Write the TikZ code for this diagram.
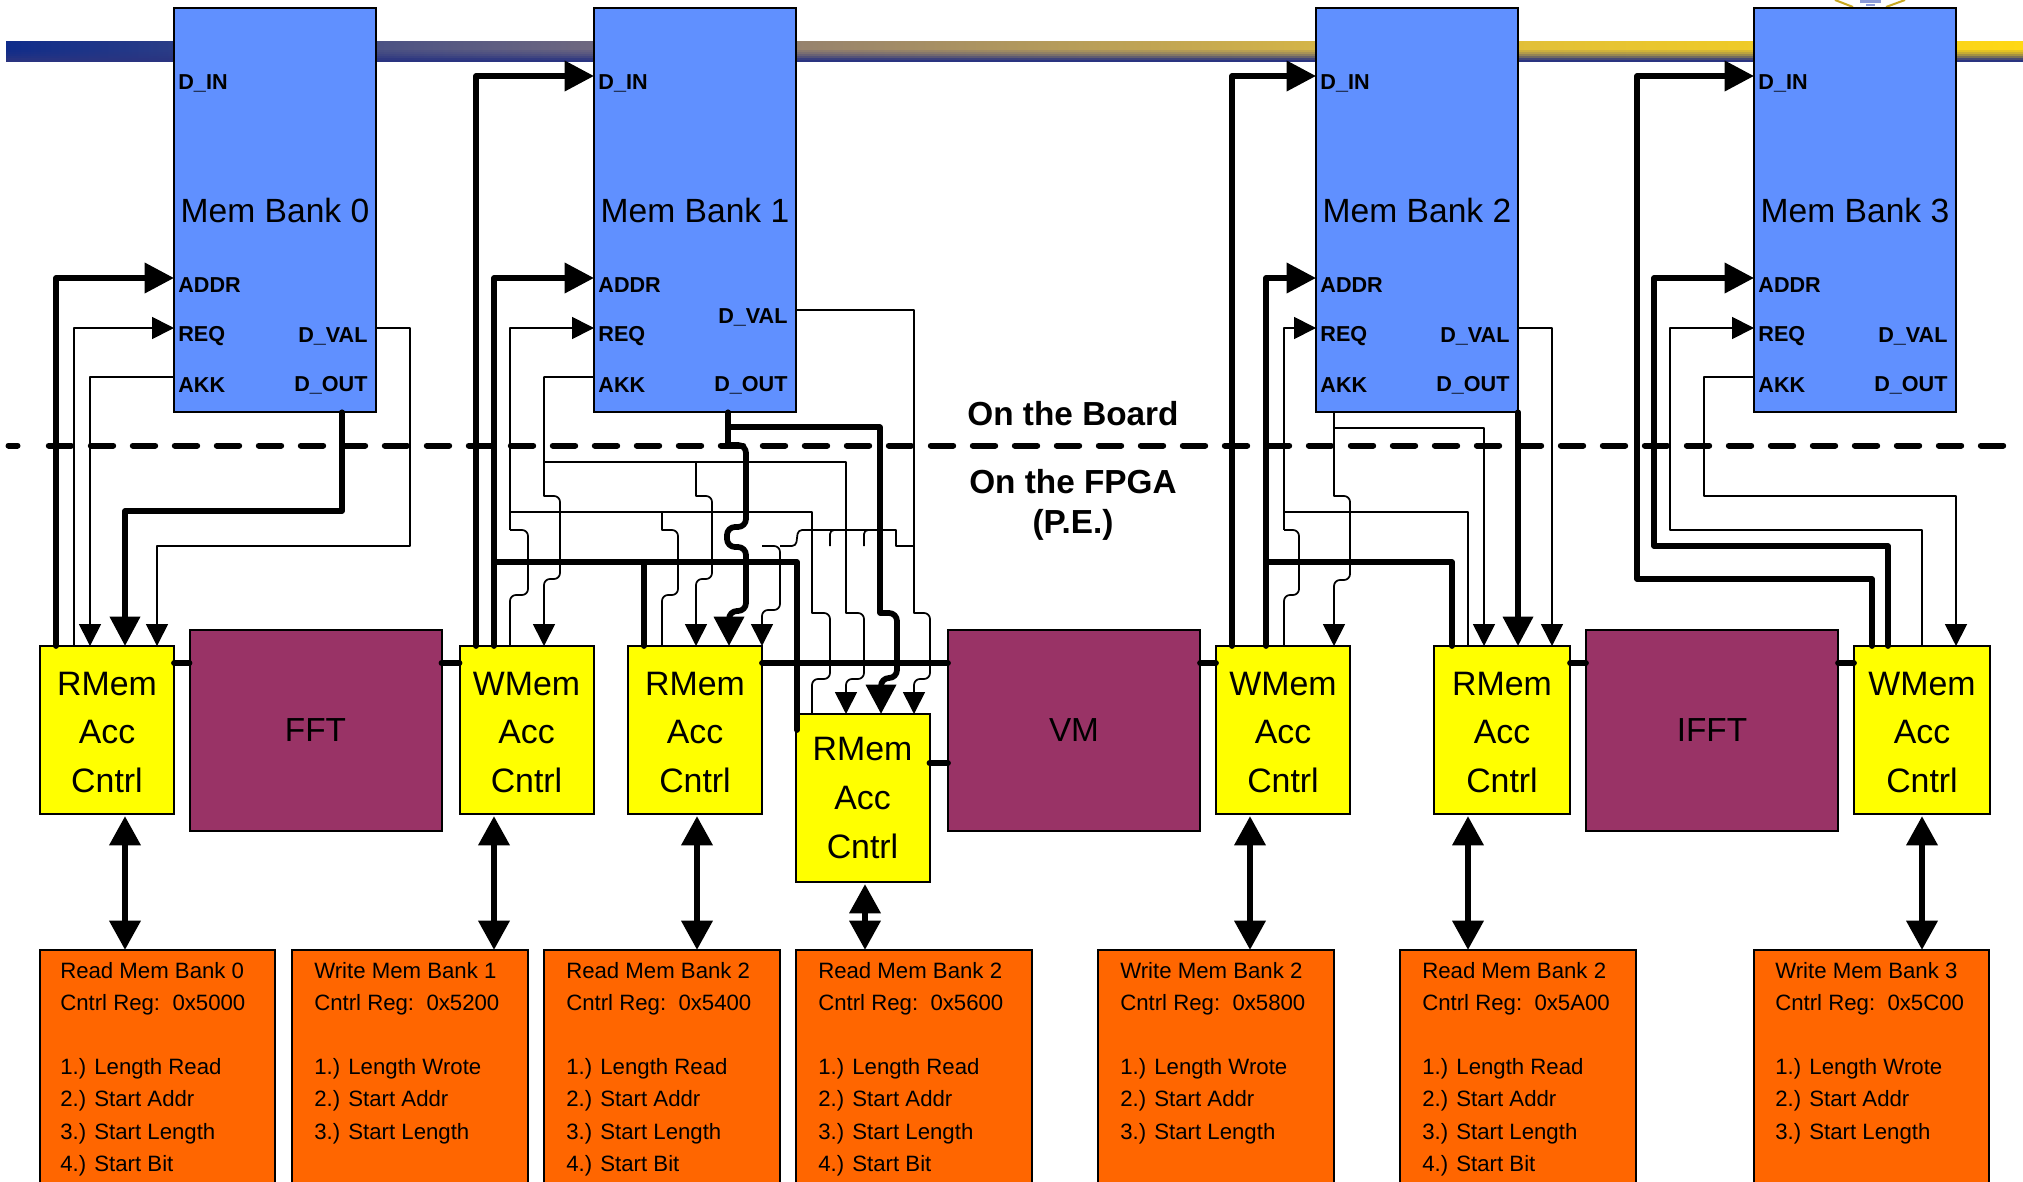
\documentclass[tikz,border=0pt]{standalone}
\usepackage{fontspec}
\setmainfont{Liberation Sans}
\usetikzlibrary{arrows.meta}
\definecolor{memblue}{HTML}{6090FF}
\definecolor{accyellow}{HTML}{FFFF00}
\definecolor{fftpurple}{HTML}{993366}
\definecolor{regorange}{HTML}{FF6600}
\definecolor{barnavy}{HTML}{2A3480}
\definecolor{sealgold}{HTML}{C8A820}
\definecolor{seallilac}{HTML}{8C9BD8}
\definecolor{barA}{HTML}{0F2C8A}
\definecolor{barB}{HTML}{6F6880}
\definecolor{barC}{HTML}{96826E}
\definecolor{barD}{HTML}{D6B646}
\definecolor{barE}{HTML}{FFD814}
\pgfdeclarehorizontalshading{goldbar}{100bp}{
 color(0bp)=(barA); color(25bp)=(barA); color(39.6bp)=(barB);
 color(44.6bp)=(barC); color(57.8bp)=(barD); color(75bp)=(barE); color(100bp)=(barE)}
\tikzset{
 boxbase/.style={draw=black,line width=1.5pt,outer sep=0pt,inner sep=0pt,align=center},
 membox/.style={boxbase,fill=memblue,minimum width=151.5pt,minimum height=303.4pt,font=\fontsize{25.2}{30}\selectfont},
 accbox/.style={boxbase,fill=accyellow,minimum width=100.5pt,minimum height=126pt,font=\fontsize{25.4}{36.4}\selectfont},
 fftbox/.style={boxbase,fill=fftpurple,minimum width=189pt,minimum height=150.75pt,font=\fontsize{25}{30}\selectfont},
 regbox/.style={boxbase,fill=regorange,minimum width=176.5pt,minimum height=225pt},
 regtext/.style={inner sep=0pt,anchor=north west,align=left,font=\fontsize{16.65}{24.1}\selectfont},
 portl/.style={inner sep=0pt,anchor=west,xshift=3.1pt,font=\bfseries\fontsize{16.2}{19}\selectfont},
 portr/.style={inner sep=0pt,anchor=east,xshift=-6.2pt,font=\bfseries\fontsize{16.2}{19}\selectfont},
 headtext/.style={inner sep=0pt,font=\bfseries\fontsize{25}{30}\selectfont},
 thinw/.style={draw=black,line width=1.3pt,line join=round},
 thickw/.style={draw=black,line width=4.3pt,line join=round,line cap=round},
 linkw/.style={draw=black,line width=4.3pt,line cap=round},
 smalltip/.style={-{Triangle[length=16.5pt,width=16.5pt]}},
 bigtip/.style={-{Triangle[length=22pt,width=22pt]}},
 twotip/.style={draw=black,line width=5pt,{Triangle[length=22pt,width=22.5pt]}-{Triangle[length=22pt,width=22.5pt]}},
 softbend/.style={rounded corners=4.5pt},
 boundary/.style={black,line width=4.5pt,line cap=round}
}
\newcommand{\portset}[2]{%
 \node[portl] (#1din) at (#1.west |- 0,83) {D\_IN};
 \node[portl] (#1addr) at (#1.west |- 0,285) {ADDR};
 \node[portl] (#1req) at (#1.west |- 0,336) {REQ};
 \node[portl] (#1akk) at (#1.west |- 0,385) {AKK};
 \node[portr] (#1dval) at (#1.east |- 0,#2) {D\_VAL};
 \node[portr] (#1dout) at (#1.east |- 0,385) {D\_OUT};
}
\newcommand{\ctltext}[1]{\rule{0pt}{21pt}#1\\Acc\\Cntrl}
\begin{document}
\begin{tikzpicture}[x=0.75pt,y=-0.75pt]
\clip (0,0) rectangle (2023,1181);
\fill[white] (0,0) rectangle (2023,1181);
% title bar
\shade[shading=goldbar] (6,42) rectangle (2023,62);
\foreach \yy/\op in {50/.12,52/.25,54/.42,56/.62,58/.85,60/1}
 \fill[barnavy,opacity=\op] (6,\yy) rectangle (2023,\yy+2);
% seal fragment
\draw[sealgold,line width=1.5pt] (1835,0) -- (1853,7);
\draw[sealgold,line width=1.5pt] (1905,0) -- (1886,7);
\draw[seallilac,line width=3pt] (1860,1) -- (1881,1);
\draw[seallilac,line width=2pt] (1866,5) -- (1875,5);
% memory banks
\node[membox] (b0) at (275,210) {\raisebox{-0.75pt}{Mem Bank 0}};
\node[membox] (b1) at (695,210) {\raisebox{-0.75pt}{Mem Bank 1}};
\node[membox] (b2) at (1417,210) {\raisebox{-0.75pt}{Mem Bank 2}};
\node[membox] (b3) at (1855,210) {\raisebox{-0.75pt}{Mem Bank 3}};
\portset{b0}{336}
\portset{b1}{317}
\portset{b2}{336}
\portset{b3}{336}
% controllers
\node[accbox] (r0) at (107,730) {\ctltext{RMem}};
\node[accbox] (w1) at (526.5,730) {\ctltext{WMem}};
\node[accbox] (r2) at (695,730) {\ctltext{RMem}};
\node[accbox] (r3) at (862.5,798) {RMem\\Acc\\Cntrl};
\node[accbox] (w2) at (1283,730) {\ctltext{WMem}};
\node[accbox,minimum width=102pt] (r4) at (1502,730) {\ctltext{RMem}};
\node[accbox,minimum width=102pt] (w3) at (1922,730) {\ctltext{WMem}};
% functional blocks
\node[fftbox] (fft) at (315.5,730.5) {FFT};
\node[fftbox] (vm) at (1074,730.5) {VM};
\node[fftbox] (ifft) at (1712,730.5) {IFFT};
% register boxes
\node[regbox] (g0) at (157.5,1100) {};
\node[regbox] (g1) at (410,1100) {};
\node[regbox] (g2) at (662,1100) {};
\node[regbox] (g3) at (914,1100) {};
\node[regbox] (g4) at (1216,1100) {};
\node[regbox] (g5) at (1518,1100) {};
\node[regbox] (g6) at (1871.5,1100) {};
\node[regtext] (t0) at (60,962) {Read Mem Bank 0\\Cntrl Reg:\ \ 0x5000\\\mbox{}\\1.) Length Read\\2.) Start Addr\\3.) Start Length\\4.) Start Bit};
\node[regtext] (t1) at (314,962) {Write Mem Bank 1\\Cntrl Reg:\ \ 0x5200\\\mbox{}\\1.) Length Wrote\\2.) Start Addr\\3.) Start Length};
\node[regtext] (t2) at (566,962) {Read Mem Bank 2\\Cntrl Reg:\ \ 0x5400\\\mbox{}\\1.) Length Read\\2.) Start Addr\\3.) Start Length\\4.) Start Bit};
\node[regtext] (t3) at (818,962) {Read Mem Bank 2\\Cntrl Reg:\ \ 0x5600\\\mbox{}\\1.) Length Read\\2.) Start Addr\\3.) Start Length\\4.) Start Bit};
\node[regtext] (t4) at (1120,962) {Write Mem Bank 2\\Cntrl Reg:\ \ 0x5800\\\mbox{}\\1.) Length Wrote\\2.) Start Addr\\3.) Start Length};
\node[regtext] (t5) at (1422,962) {Read Mem Bank 2\\Cntrl Reg:\ \ 0x5A00\\\mbox{}\\1.) Length Read\\2.) Start Addr\\3.) Start Length\\4.) Start Bit};
\node[regtext] (t6) at (1775,962) {Write Mem Bank 3\\Cntrl Reg:\ \ 0x5C00\\\mbox{}\\1.) Length Wrote\\2.) Start Addr\\3.) Start Length};
% links between controllers and blocks
\draw[linkw] (r0.east |- 0,663) -- (fft.west |- 0,663);
\draw[linkw] (fft.east |- 0,663) -- (w1.west |- 0,663);
\draw[linkw] (r2.east |- 0,663) -- (vm.west |- 0,663);
\draw[linkw] (r3.east |- 0,763) -- (vm.west |- 0,763);
\draw[linkw] (vm.east |- 0,663) -- (w2.west |- 0,663);
\draw[linkw] (r4.east |- 0,663) -- (ifft.west |- 0,663);
\draw[linkw] (ifft.east |- 0,663) -- (w3.west |- 0,663);
% register links
\draw[twotip] (125,0 |- r0.south) ++(0,2) -- (125,0 |- g0.north);
\draw[twotip] (494,0 |- w1.south) ++(0,2) -- (494,0 |- g1.north);
\draw[twotip] (697,0 |- r2.south) ++(0,2) -- (697,0 |- g2.north);
\draw[twotip] (865,0 |- r3.south) ++(0,2) -- (865,0 |- g3.north);
\draw[twotip] (1250,0 |- w2.south) ++(0,2) -- (1250,0 |- g4.north);
\draw[twotip] (1468,0 |- r4.south) ++(0,2) -- (1468,0 |- g5.north);
\draw[twotip] (1922,0 |- w3.south) ++(0,2) -- (1922,0 |- g6.north);
% bank 0
\draw[thickw,bigtip] (56,0 |- r0.north) |- (b0.west |- 0,278);
\draw[thinw,smalltip] (74,0 |- r0.north) |- (b0.west |- 0,328);
\draw[thinw,smalltip] (b0.west |- 0,377) -| (90,0 |- r0.north);
\draw[thickw,bigtip] (342,0 |- b0.south) -- (342,511) -- (125,511) -- (125,0 |- r0.north);
\draw[thinw,smalltip] (b0.east |- 0,328) -| (410,546) -| (157,0 |- r0.north);
% bank 1 write side
\draw[thickw,bigtip] (476,0 |- w1.north) |- (b1.west |- 0,76);
\draw[thickw,bigtip] (494,0 |- w1.north) |- (b1.west |- 0,278);
\draw[thinw,smalltip] (510,530) |- (b1.west |- 0,328);
\draw[thinw] (510,530) [softbend] -- (528,530) -- (528,595) -- (510,595) [sharp corners] -- (510,0 |- w1.north);
\draw[thinw,smalltip] (b1.west |- 0,377) -- (544,377) -- (544,496) [softbend] -- (560,496) -- (560,579) -- (544,579) [sharp corners] -- (544,0 |- w1.north);
% branches to other controllers
\draw[thinw] (510,512) -- (812,512) -- (812,613) [softbend] -- (830,613) -- (830,679) -- (812,679) [sharp corners] -- (812,0 |- r3.north);
\draw[thinw] (662,512) -- (662,530) [softbend] -- (678,530) -- (678,595) -- (662,595) [sharp corners] -- (662,0 |- r2.north);
\draw[thinw,smalltip] (544,462) -- (846,462) -- (846,613) [softbend] -- (864,613) -- (864,679) -- (846,679) [sharp corners] -- (846,0 |- r3.north);
\draw[thinw,smalltip] (696,462) -- (696,496) [softbend] -- (712,496) -- (712,579) -- (696,579) [sharp corners] -- (696,0 |- r2.north);
\draw[thickw] (494,562) -- (797,562) -- (797,730);
\draw[thickw] (644,562) -- (644,0 |- r2.north);
% bank 1 data out
\draw[thickw,bigtip] (728,0 |- b1.south) -- (728,445) [rounded corners=6pt] -- (746,445) -- (746,527) -- (727,527) -- (727,547) -- (746,547) -- (746,611) -- (729,611) [sharp corners] -- (729,0 |- r2.north);
\draw[thickw,bigtip] (728,427) -- (880,427) -- (880,613) [rounded corners=6pt] -- (897,613) -- (897,678) -- (881,678) [sharp corners] -- (881,0 |- r3.north);
% bank 1 data valid
\draw[thinw,smalltip] (b1.east |- 0,310) -- (914,310) -- (914,613) [softbend] -- (930,613) -- (930,679) -- (914,679) [sharp corners] -- (914,0 |- r3.north);
\draw[thinw] (914,546) -- (896,546) -- (896,530) -- (868,530);
\draw[thinw] (868,530) [rounded corners=3pt] -- (864,530) -- (864,546);
\draw[thinw] (868,530) -- (834,530);
\draw[thinw] (834,530) [rounded corners=3pt] -- (830,530) -- (830,546);
\draw[thinw] (834,530) [rounded corners=3pt] -- (798,530) -- (796,546) [sharp corners] -- (780,546);
\draw[thinw,smalltip] (762,546) [softbend] -- (780,546) -- (780,610) -- (762,610) [sharp corners] -- (762,0 |- r2.north);
% bank 2
\draw[thickw,bigtip] (1232,0 |- w2.north) |- (b2.west |- 0,76);
\draw[thickw,bigtip] (1266,0 |- w2.north) |- (b2.west |- 0,278);
\draw[thinw,smalltip] (1284,530) |- (b2.west |- 0,328);
\draw[thinw] (1284,530) [softbend] -- (1299,530) -- (1299,595) -- (1284,595) [sharp corners] -- (1284,0 |- w2.north);
\draw[thinw] (1284,512) -| (1468,0 |- r4.north);
\draw[thickw] (1266,562) -| (1452,0 |- r4.north);
\draw[thinw,smalltip] (1334,0 |- b2.south) -- (1334,496) [softbend] -- (1350,496) -- (1350,580) -- (1334,580) [sharp corners] -- (1334,0 |- w2.north);
\draw[thinw,smalltip] (1334,428) -| (1484,0 |- r4.north);
\draw[thickw,bigtip] (1518,0 |- b2.south) -- (1518,0 |- r4.north);
\draw[thinw,smalltip] (b2.east |- 0,328) -| (1552,0 |- r4.north);
% bank 3
\draw[thickw,bigtip] (1872,0 |- w3.north) -- (1872,579) -- (1637,579) |- (b3.west |- 0,76);
\draw[thickw,bigtip] (1888,0 |- w3.north) -- (1888,546) -- (1654,546) |- (b3.west |- 0,278);
\draw[thinw,smalltip] (1922,0 |- w3.north) -- (1922,530) -- (1670,530) |- (b3.west |- 0,328);
\draw[thinw,smalltip] (b3.west |- 0,377) -| (1704,496) -| (1956,0 |- w3.north);
% board / FPGA boundary
\draw[boundary] (8.5,445.5) -- (17.5,445.5);
\draw[boundary,dash pattern=on 16.8pt off 14.7pt] (48.8,445.5) -- (2004,445.5);
\node[headtext] (onboard) at (1073,414) {On the Board};
\node[headtext] (onfpga) at (1073,482) {On the FPGA};
\node[headtext] (pe) at (1073,525) {(P.E.)};
\end{tikzpicture}
\end{document}
